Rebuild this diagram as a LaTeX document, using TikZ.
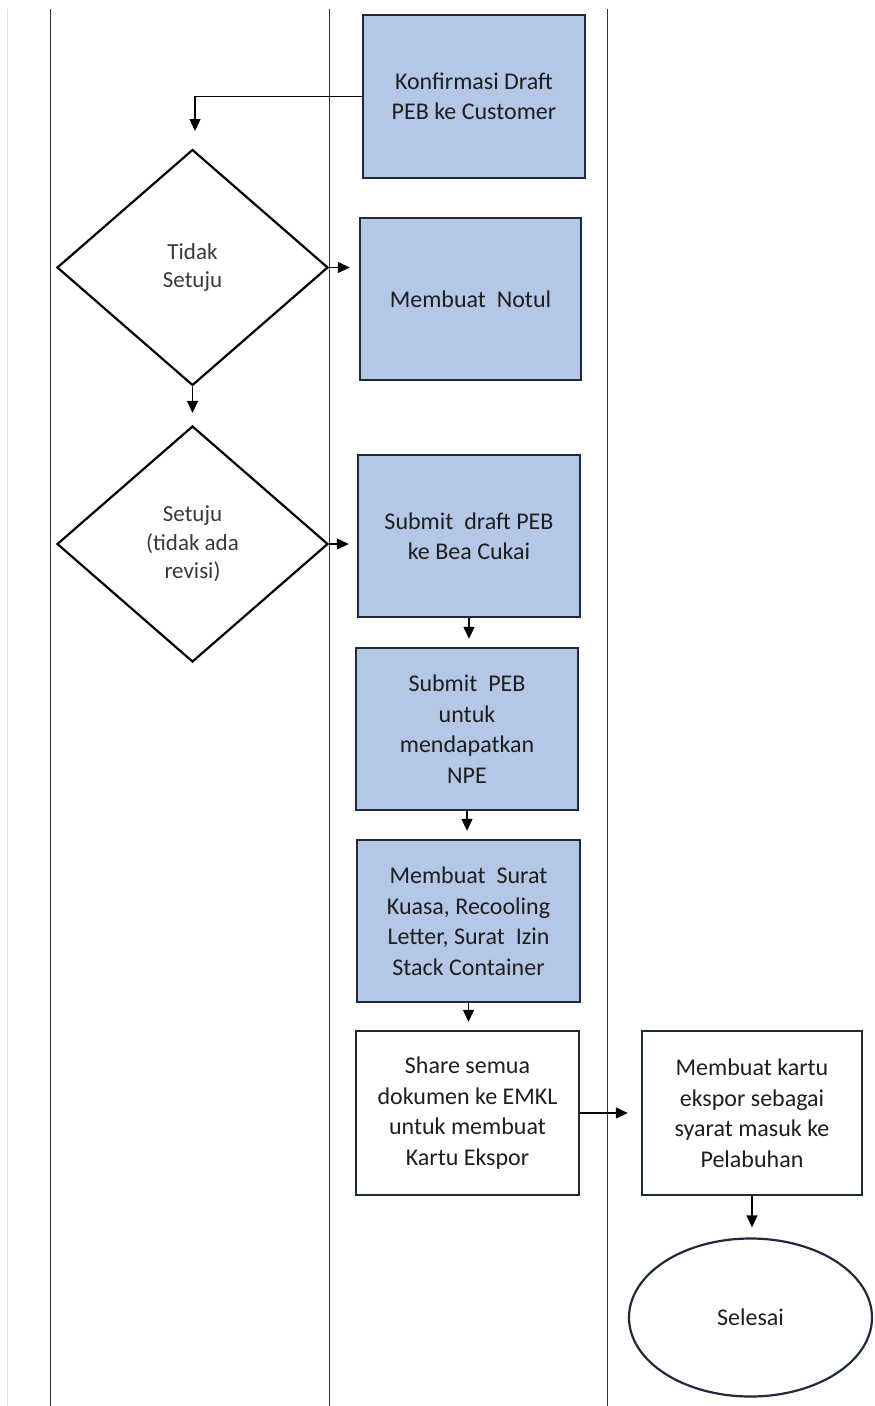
\documentclass[tikz,border=0pt]{standalone}
\usepackage{fontspec}
\setmainfont{Carlito}
\usetikzlibrary{shapes.geometric,arrows.meta}
\definecolor{boxfill}{HTML}{B4C7E7}
\definecolor{boxline}{HTML}{1F2A3C}
\definecolor{txt}{HTML}{1E1E1E}
\definecolor{dtxt}{HTML}{3A3A3A}
\definecolor{lane}{HTML}{333333}
\tikzset{
  procbox/.style={rectangle, draw=boxline, line width=2.4pt, fill=boxfill,
    minimum width=222pt, minimum height=162pt, align=center, text=txt,
    inner sep=0pt, font=\fontsize{24}{30.5}\selectfont},
  whitebox/.style={procbox, fill=white},
  decision/.style={diamond, draw=black, line width=2.2pt, fill=white,
    minimum width=271pt, minimum height=236pt, inner sep=0pt, align=center,
    text=dtxt, font=\fontsize{23}{28.5}\selectfont},
  terminal/.style={ellipse, draw=boxline, line width=2.2pt, fill=white,
    minimum width=243pt, minimum height=158pt, inner sep=0pt, text=txt,
    font=\fontsize{24}{30}\selectfont},
  arr/.style={draw=black, line width=1.3pt, -{Triangle[length=12pt,width=11pt]}},
  laneline/.style={draw=lane, line width=1pt}
}
\begin{document}
\begin{tikzpicture}[x=1pt,y=-1pt]
\useasboundingbox[fill=white] (0,0) rectangle (875,1406);
% lane lines
\coordinate (g0) at (7,9);   \coordinate (g1) at (7,1406);
\coordinate (l1a) at (50,9); \coordinate (l1b) at (50,1406);
\coordinate (l2a) at (329,9); \coordinate (l2b) at (329,1406);
\coordinate (l3a) at (607,9); \coordinate (l3b) at (607,1406);
\draw[draw=black!12, line width=0.9pt] (g0) -- (g1);
\draw[laneline] (l1a) -- (l1b);
\draw[laneline] (l2a) -- (l2b);
\draw[laneline] (l3a) -- (l3b);
% nodes
\node[procbox, minimum height=163pt] (b1) at (474,96.5) {Konfirmasi Draft\\PEB ke Customer};
\node[decision] (d1) at (192.5,267.5) {Tidak\\Setuju};
\node[procbox, minimum width=221pt] (b2) at (470.5,299) {Membuat\ \ Notul};
\node[decision] (d2) at (192.5,544) {Setuju\\(tidak ada\\revisi)};
\node[procbox] (b3) at (469,536) {Submit\ \ draft PEB\\ke Bea Cukai};
\node[procbox] (b4) at (467,729) {Submit\ \ PEB\\untuk\\mendapatkan\\NPE};
\node[procbox, minimum width=223pt] (b5) at (468.5,921) {Membuat\ \ Surat\\Kuasa, Recooling\\Letter, Surat\ \ Izin\\Stack Container};
\node[whitebox, minimum width=223pt, minimum height=164pt] (b6) at (467.5,1113) {Share semua\\dokumen ke EMKL\\untuk membuat\\Kartu Ekspor};
\node[whitebox, minimum width=220pt, minimum height=164pt] (b7) at (752,1113) {Membuat kartu\\ekspor sebagai\\syarat masuk ke\\Pelabuhan};
\node[terminal] (e) at (750.5,1317.5) {Selesai};
% connectors
\coordinate (a1) at (195,131);
\draw[arr] (b1.west) -| (a1);
\draw[arr, shorten >=9pt] (d1.east) -- (d1.east -| b2.west);
\draw[arr, shorten >=12pt] (d1.south) -- (d2.north);
\draw[arr, shorten >=8pt] (d2.east) -- (d2.east -| b3.west);
\draw[arr, shorten >=8pt] (b3.south) -- (b3.south |- b4.north);
\draw[arr, shorten >=8pt] (b4.south) -- (b4.south |- b5.north);
\draw[arr, shorten >=8pt] (b5.south) -- (b5.south |- b6.north);
\draw[arr, shorten >=13pt] (b6.east) -- (b7.west);
\draw[arr, shorten >=10pt] (b7.south) -- (b7.south |- e.north);
\end{tikzpicture}
\end{document}
